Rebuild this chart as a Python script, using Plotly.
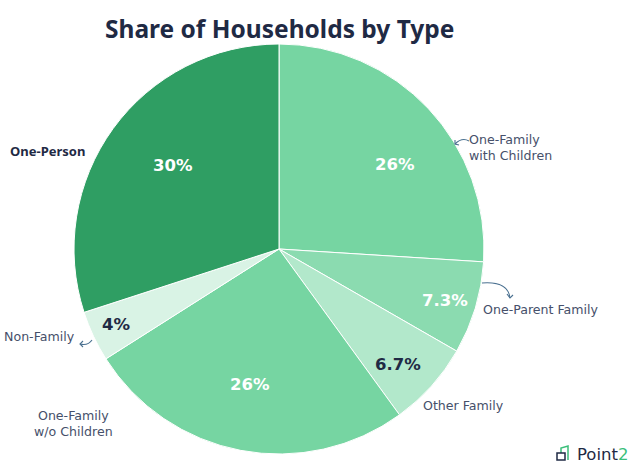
import plotly.graph_objects as go

categories = ["One-Family with Children", "One-Parent Family", "Other Family",
              "One-Family w/o Children", "Non-Family", "One-Person"]
shares = [26, 7.3, 6.7, 26, 4, 30]
share_labels = ["26%", "7.3%", "6.7%", "26%", "4%", "30%"]
outside_labels = ["One-Family<br>with Children", "One-Parent Family", "Other Family",
                  "One-Family<br>w/o Children", "Non-Family", "One-Person"]
colors = ["#76d5a2", "#8bdbb0", "#b2e8cb", "#76d5a2", "#d9f3e5", "#2f9e63"]
text_colors = ["#ffffff", "#ffffff", "#1f2a44", "#ffffff", "#1f2a44", "#ffffff"]

W, H = 640, 468
FONT = "Noto Sans"
LFONT = "DejaVu Sans"
NAVY = "#1f2a44"
GREY = "#46506a"

# layout helpers (pixel positions of the text labels)
CX, CY, R = 279, 249, 205
pct_pos = [(395, 164), (445, 300), (398, 364), (250, 384), (116, 324), (173, 165)]
out_pos = [(467, 147, "left", "left"), (481, 309, "left", "left"), (421, 405, "left", "left"),
           (73, 423, "center", "center"), (77, 336, "right", "left"), (87, 151, "right", "left")]

fig = go.Figure(go.Pie(
    labels=categories,
    values=shares,
    textinfo="none",
    sort=False,
    direction="clockwise",
    rotation=0,
    marker=dict(colors=colors, line=dict(color="#ffffff", width=1)),
    domain=dict(x=[(CX - R) / W, (CX + R) / W], y=[1 - (CY + R) / H, 1 - (CY - R) / H]),
    showlegend=False,
    hoverinfo="label+percent",
))

def px(x, y):
    return x / W, 1 - y / H

anns = []
for lab, col, (x, y) in zip(share_labels, text_colors, pct_pos):
    ax, ay = px(x, y)
    anns.append(dict(x=ax, y=ay, xref="paper", yref="paper", text=lab, showarrow=False,
                     xanchor="center", yanchor="middle",
                     font=dict(family=LFONT, size=16.5, color=col, weight="bold")))

for i, (lab, (x, y, xa, al)) in enumerate(zip(outside_labels, out_pos)):
    ax, ay = px(x, y)
    bold = lab == "One-Person"
    anns.append(dict(x=ax, y=ay, xref="paper", yref="paper", text=lab, showarrow=False,
                     xanchor=xa, yanchor="middle", align=al,
                     font=dict(family=LFONT if not bold else FONT,
                               size=12.6 if not bold else 13,
                               color=NAVY if bold else GREY,
                               weight="bold" if bold else "normal")))

# Title
tx, ty = px(279, 28)
anns.append(dict(x=tx, y=ty, xref="paper", yref="paper", text="Share of Households by Type",
                 showarrow=False, xanchor="center", yanchor="middle",
                 font=dict(family=FONT, size=24.5, color=NAVY, weight="bold")))
# Logo text
lx, ly = px(575, 454)
anns.append(dict(x=lx, y=ly, xref="paper", yref="paper",
                 text="Point<span style='color:#3bbf7a'>2</span>",
                 showarrow=False, xanchor="left", yanchor="middle",
                 font=dict(family=LFONT, size=16.5, color=NAVY)))

shapes = []
ARROW = "#4a7090"
def curve(p0, c, p1, head):
    x0, y0 = px(*p0); cx, cy = px(*c); x1, y1 = px(*p1)
    shapes.append(dict(type="path", xref="paper", yref="paper",
                       path=f"M {x0},{y0} Q {cx},{cy} {x1},{y1}",
                       line=dict(color=ARROW, width=1.1)))
    hx0, hy0 = px(*head[0]); hx1, hy1 = px(*head[1])
    shapes.append(dict(type="path", xref="paper", yref="paper",
                       path=f"M {hx0},{hy0} L {x1},{y1} L {hx1},{hy1}",
                       line=dict(color=ARROW, width=1.1)))

# One-Family with Children arrow (points left-down toward pie)
curve((469, 141), (462, 137), (455, 144), [(455, 140), (459, 145)])
# One-Parent Family arrow (curves down-right)
curve((482, 283), (508, 281), (510, 298), [(507, 294), (513, 295)])
# Non-Family arrow (points left)
curve((92, 340), (88, 346), (80, 344), [(83, 341), (83, 347)])

# Logo icon
ix0, iy0 = px(561, 460); ix1, iy1 = px(568, 446)
shapes.append(dict(type="path", xref="paper", yref="paper",
                   path=f"M {ix0},{iy0} L {ix0},{px(0,448)[1]} L {ix1},{iy1} L {ix1},{iy0}",
                   line=dict(color="#3bbf7a", width=1.5)))
jx0, jy0 = px(557, 460); jx1, jy1 = px(565, 453)
shapes.append(dict(type="rect", xref="paper", yref="paper", x0=jx0, y0=jy0, x1=jx1, y1=jy1,
                   line=dict(color=NAVY, width=1.5), fillcolor="#ffffff"))

fig.update_layout(
    width=W, height=H,
    margin=dict(l=0, r=0, t=0, b=0),
    paper_bgcolor="#ffffff",
    plot_bgcolor="#ffffff",
    annotations=anns,
    shapes=shapes,
)

fig.write_html("out.html", config={"displayModeBar": False})

# remove default page margin so the figure fills the window exactly
with open("out.html", "r", encoding="utf-8") as f:
    html = f.read()
html = html.replace("<body>", "<body style=\"margin:0;overflow:hidden\">", 1)
with open("out.html", "w", encoding="utf-8") as f:
    f.write(html)
